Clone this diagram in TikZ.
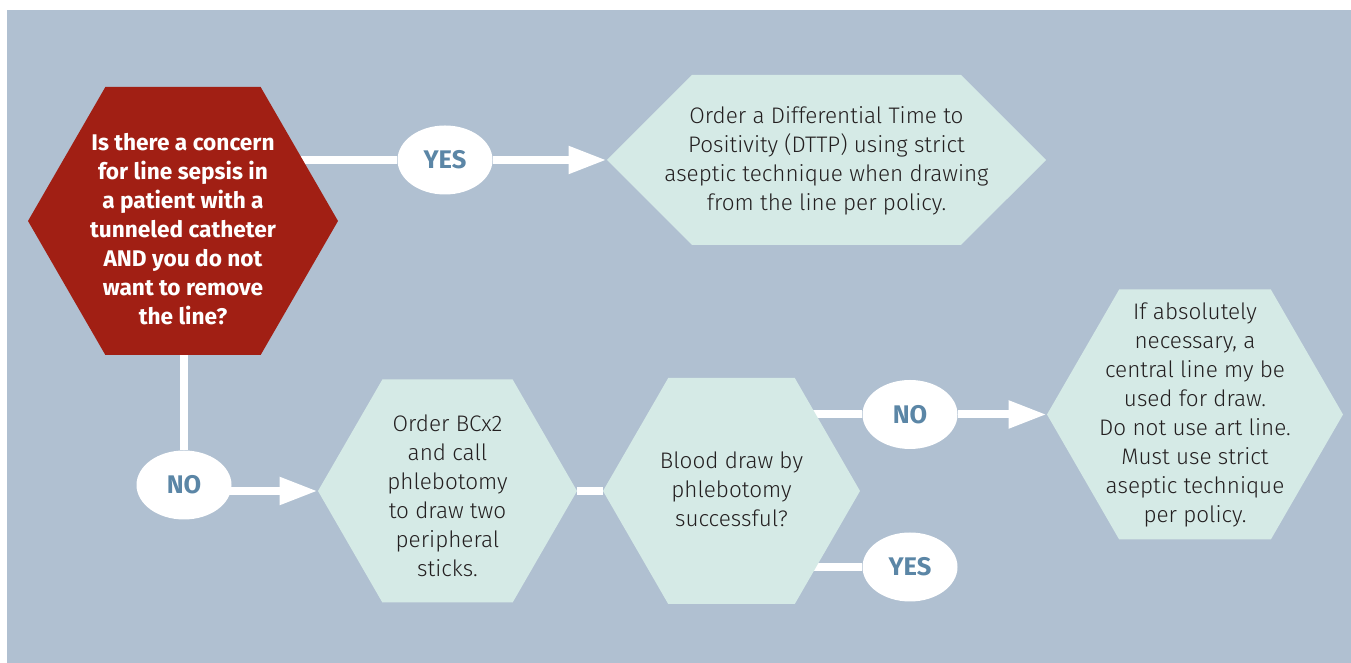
\documentclass[tikz,border=0pt]{standalone}
\usepackage{fontspec}
\setmainfont{Fira Sans}
\newfontfamily\lightfont{Fira Sans Light}
\usepackage{tikz}
\usetikzlibrary{arrows.meta}
\usetikzlibrary{shapes.symbols}
\usetikzlibrary{shapes.geometric}

\definecolor{panelgray}{HTML}{B0C0D1}
\definecolor{alertred}{HTML}{A11F14}
\definecolor{stepmint}{HTML}{D5EAE6}
\definecolor{stepink}{HTML}{231F20}
\definecolor{answerblue}{HTML}{5B86A6}

\pgfdeclarelayer{panel}
\pgfdeclarelayer{links}
\pgfsetlayers{panel,links,main}

\begin{document}
\begin{tikzpicture}[
	hexbox/.style = {shape = signal, signal to = west and east, signal pointer angle = 120, inner sep = 0pt},
	alerthex/.style = {hexbox, fill = alertred},
	stephex/.style = {hexbox, fill = stepmint},
	alerttext/.style = {align = center, inner sep = 0pt, text = white, font = \fontsize{12.9}{16.5}\selectfont\bfseries},
	steptext/.style = {align = center, inner sep = 0pt, text = stepink, font = \lightfont\fontsize{12.8}{16.5}\selectfont},
	answer/.style = {ellipse, fill = white, inner sep = 0pt, minimum width = 1.9cm, minimum height = 1.38cm, text = answerblue, font = \fontsize{14.5}{16}\selectfont\bfseries},
	link/.style = {white, line width = 0.16cm},
	linkarrow/.style = {link, -{Triangle[length = 0.76cm, width = 0.52cm]}}
	]
	\useasboundingbox (0,0) rectangle (27.02,13.26);
	\begin{pgfonlayer}{panel}
		\fill [white] (0,0) rectangle (27.02,13.26);
		\fill [panelgray] (0.14,0) rectangle (27.02,13.06);
	\end{pgfonlayer}
	
	% question and steps
	\node [alerthex, minimum width = 6.2cm, minimum height = 5.36cm] (concern) at (3.66,8.84) {};
	\node [alerttext] (concerntext) at (3.66,8.68) {Is there a concern\\for line sepsis in\\a patient with a\\tunneled catheter\\AND you do not\\want to remove\\the line?};
	
	\node [stephex, signal pointer angle = 90, minimum width = 8.78cm, minimum height = 3.4cm] (dttp) at (16.53,10.06) {};
	\node [steptext] (dttptext) at (16.53,10.04) {Order a Differential Time to\\Positivity (DTTP) using strict\\aseptic technique when drawing\\from the line per policy.};
	
	\node [stephex, minimum width = 5.18cm, minimum height = 4.46cm] (order) at (8.95,3.44) {};
	\node [steptext] (ordertext) at (8.95,3.34) {Order BCx2\\and call\\phlebotomy\\to draw two\\peripheral\\sticks.};
	
	\node [stephex, minimum width = 5.14cm, minimum height = 4.52cm] (blood) at (14.63,3.44) {};
	\node [steptext] (bloodtext) at (14.63,3.48) {Blood draw by\\phlebotomy\\successful?};
	
	\node [stephex, minimum width = 5.92cm, minimum height = 5.0cm] (central) at (23.9,4.97) {};
	\node [steptext] (centraltext) at (23.9,4.96) {If absolutely\\necessary, a\\central line my be\\used for draw.\\Do not use art line.\\Must use strict\\aseptic technique\\per policy.};
	
	% answers
	\node [answer] (yesdttp) at (8.9,10.06) {YES};
	\node [answer] (noorder) at (3.68,3.56) {NO};
	\node [answer] (nocentral) at (18.2,4.97) {NO};
	\node [answer] (yesblood) at (18.2,1.92) {YES};
	
	\begin{pgfonlayer}{links}
		\draw [link] (concern.center |- yesdttp) -- (yesdttp);
		\draw [linkarrow] (yesdttp) -- (dttp.west);
		\draw [link] (noorder |- concern.center) -- (noorder);
		\draw [linkarrow] (noorder |- order.west) -- (order.west);
		\draw [link] (order.east) -- (blood.west);
		\draw [link] (blood.center |- nocentral) -- (nocentral);
		\draw [linkarrow] (nocentral) -- (central.west);
		\draw [link] (blood.center |- yesblood) -- (yesblood);
	\end{pgfonlayer}
\end{tikzpicture}
\end{document}
